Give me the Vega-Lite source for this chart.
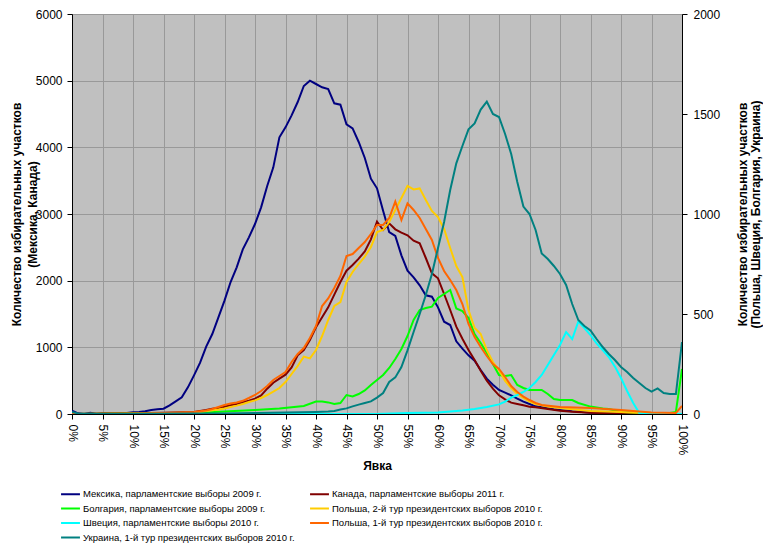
{
  "$schema": "https://vega.github.io/schema/vega-lite/v6.json",
  "width": 610,
  "height": 400,
  "autosize": {"type": "none"},
  "padding": {"left": 72, "top": 14, "right": 81, "bottom": 131},
  "background": "white",
  "config": {
    "font": "Liberation Sans",
    "view": {"fill": "#C0C0C0", "stroke": null},
    "axis": {
      "labelColor": "#000000",
      "titleColor": "#000000",
      "domainColor": "#000000",
      "tickColor": "#000000",
      "labelFontSize": 12,
      "labelFont": "Liberation Sans",
      "titleFont": "Liberation Sans",
      "gridColor": "#999999",
      "gridOpacity": 1,
      "domainWidth": 1,
      "tickWidth": 1
    }
  },
  "datasets": {
    "series": [
      {"k": "M", "name": "Мексика, парламентские выборы 2009 г."},
      {"k": "C", "name": "Канада, парламентские выборы 2011 г."},
      {"k": "B", "name": "Болгария, парламентские выборы 2009 г."},
      {"k": "Y", "name": "Польша, 2-й тур президентских выборов 2010 г."},
      {"k": "S", "name": "Швеция, парламентские выборы 2010 г."},
      {"k": "P", "name": "Польша, 1-й тур президентских выборов 2010 г."},
      {"k": "U", "name": "Украина, 1-й тур президентских выборов 2010 г."}
    ],
    "counts": [
      {"k":"M","x":0,"v":50},{"k":"M","x":1,"v":10},{"k":"M","x":2,"v":0},{"k":"M","x":3,"v":20},{"k":"M","x":4,"v":5},{"k":"M","x":5,"v":10},{"k":"M","x":6,"v":10},{"k":"M","x":7,"v":10},{"k":"M","x":8,"v":15},{"k":"M","x":9,"v":15},{"k":"M","x":10,"v":25},{"k":"M","x":11,"v":30},{"k":"M","x":12,"v":40},{"k":"M","x":13,"v":60},{"k":"M","x":14,"v":70},{"k":"M","x":15,"v":80},{"k":"M","x":16,"v":130},{"k":"M","x":17,"v":190},{"k":"M","x":18,"v":250},{"k":"M","x":19,"v":400},{"k":"M","x":20,"v":580},{"k":"M","x":21,"v":770},{"k":"M","x":22,"v":1010},{"k":"M","x":23,"v":1200},{"k":"M","x":24,"v":1450},{"k":"M","x":25,"v":1700},{"k":"M","x":26,"v":1980},{"k":"M","x":27,"v":2200},{"k":"M","x":28,"v":2470},{"k":"M","x":29,"v":2650},{"k":"M","x":30,"v":2850},{"k":"M","x":31,"v":3100},{"k":"M","x":32,"v":3420},{"k":"M","x":33,"v":3700},{"k":"M","x":34,"v":4150},{"k":"M","x":35,"v":4300},{"k":"M","x":36,"v":4480},{"k":"M","x":37,"v":4680},{"k":"M","x":38,"v":4920},{"k":"M","x":39,"v":5000},{"k":"M","x":40,"v":4950},{"k":"M","x":41,"v":4900},{"k":"M","x":42,"v":4875},{"k":"M","x":43,"v":4660},{"k":"M","x":44,"v":4640},{"k":"M","x":45,"v":4345},{"k":"M","x":46,"v":4285},{"k":"M","x":47,"v":4080},{"k":"M","x":48,"v":3840},{"k":"M","x":49,"v":3530},{"k":"M","x":50,"v":3385},{"k":"M","x":51,"v":3050},{"k":"M","x":52,"v":2730},{"k":"M","x":53,"v":2670},{"k":"M","x":54,"v":2380},{"k":"M","x":55,"v":2150},{"k":"M","x":56,"v":2050},{"k":"M","x":57,"v":1930},{"k":"M","x":58,"v":1780},{"k":"M","x":59,"v":1760},{"k":"M","x":60,"v":1600},{"k":"M","x":61,"v":1385},{"k":"M","x":62,"v":1335},{"k":"M","x":63,"v":1090},{"k":"M","x":64,"v":980},{"k":"M","x":65,"v":880},{"k":"M","x":66,"v":800},{"k":"M","x":67,"v":660},{"k":"M","x":68,"v":530},{"k":"M","x":69,"v":440},{"k":"M","x":70,"v":360},{"k":"M","x":71,"v":320},{"k":"M","x":72,"v":280},{"k":"M","x":73,"v":230},{"k":"M","x":74,"v":185},{"k":"M","x":75,"v":150},{"k":"M","x":76,"v":115},{"k":"M","x":77,"v":100},{"k":"M","x":78,"v":85},{"k":"M","x":79,"v":70},{"k":"M","x":80,"v":60},{"k":"M","x":82,"v":40},{"k":"M","x":85,"v":20},{"k":"M","x":88,"v":10},{"k":"M","x":90,"v":0},{"k":"M","x":100,"v":0},
      {"k":"C","x":0,"v":0},{"k":"C","x":10,"v":10},{"k":"C","x":15,"v":20},{"k":"C","x":20,"v":30},{"k":"C","x":22,"v":60},{"k":"C","x":23,"v":80},{"k":"C","x":24,"v":90},{"k":"C","x":25,"v":110},{"k":"C","x":26,"v":130},{"k":"C","x":27,"v":150},{"k":"C","x":28,"v":175},{"k":"C","x":29,"v":200},{"k":"C","x":30,"v":230},{"k":"C","x":31,"v":280},{"k":"C","x":32,"v":380},{"k":"C","x":33,"v":470},{"k":"C","x":34,"v":530},{"k":"C","x":35,"v":590},{"k":"C","x":36,"v":700},{"k":"C","x":37,"v":880},{"k":"C","x":38,"v":960},{"k":"C","x":39,"v":1110},{"k":"C","x":40,"v":1300},{"k":"C","x":41,"v":1450},{"k":"C","x":42,"v":1600},{"k":"C","x":43,"v":1790},{"k":"C","x":44,"v":1980},{"k":"C","x":45,"v":2150},{"k":"C","x":46,"v":2235},{"k":"C","x":47,"v":2330},{"k":"C","x":48,"v":2440},{"k":"C","x":49,"v":2620},{"k":"C","x":50,"v":2885},{"k":"C","x":51,"v":2760},{"k":"C","x":52,"v":2860},{"k":"C","x":53,"v":2770},{"k":"C","x":54,"v":2720},{"k":"C","x":55,"v":2680},{"k":"C","x":56,"v":2600},{"k":"C","x":57,"v":2560},{"k":"C","x":58,"v":2340},{"k":"C","x":59,"v":2110},{"k":"C","x":60,"v":2035},{"k":"C","x":61,"v":1800},{"k":"C","x":62,"v":1560},{"k":"C","x":63,"v":1310},{"k":"C","x":64,"v":1130},{"k":"C","x":65,"v":960},{"k":"C","x":66,"v":810},{"k":"C","x":67,"v":650},{"k":"C","x":68,"v":500},{"k":"C","x":69,"v":380},{"k":"C","x":70,"v":280},{"k":"C","x":71,"v":220},{"k":"C","x":72,"v":170},{"k":"C","x":73,"v":150},{"k":"C","x":74,"v":130},{"k":"C","x":75,"v":110},{"k":"C","x":76,"v":100},{"k":"C","x":78,"v":75},{"k":"C","x":80,"v":50},{"k":"C","x":82,"v":35},{"k":"C","x":85,"v":20},{"k":"C","x":88,"v":10},{"k":"C","x":90,"v":5},{"k":"C","x":95,"v":0},{"k":"C","x":100,"v":0},
      {"k":"B","x":0,"v":0},{"k":"B","x":20,"v":5},{"k":"B","x":25,"v":12},{"k":"B","x":30,"v":20},{"k":"B","x":34,"v":28},{"k":"B","x":38,"v":40},{"k":"B","x":40,"v":62},{"k":"B","x":41,"v":62},{"k":"B","x":42,"v":58},{"k":"B","x":43,"v":50},{"k":"B","x":44,"v":55},{"k":"B","x":45,"v":95},{"k":"B","x":46,"v":88},{"k":"B","x":47,"v":100},{"k":"B","x":48,"v":118},{"k":"B","x":49,"v":145},{"k":"B","x":50,"v":170},{"k":"B","x":51,"v":195},{"k":"B","x":52,"v":230},{"k":"B","x":53,"v":275},{"k":"B","x":54,"v":325},{"k":"B","x":55,"v":390},{"k":"B","x":56,"v":470},{"k":"B","x":57,"v":520},{"k":"B","x":58,"v":530},{"k":"B","x":59,"v":537},{"k":"B","x":60,"v":580},{"k":"B","x":61,"v":600},{"k":"B","x":62,"v":620},{"k":"B","x":63,"v":528},{"k":"B","x":64,"v":515},{"k":"B","x":65,"v":480},{"k":"B","x":66,"v":400},{"k":"B","x":67,"v":355},{"k":"B","x":68,"v":305},{"k":"B","x":69,"v":250},{"k":"B","x":70,"v":195},{"k":"B","x":71,"v":190},{"k":"B","x":72,"v":195},{"k":"B","x":73,"v":145},{"k":"B","x":74,"v":130},{"k":"B","x":75,"v":120},{"k":"B","x":77,"v":120},{"k":"B","x":78,"v":100},{"k":"B","x":79,"v":75},{"k":"B","x":80,"v":70},{"k":"B","x":82,"v":70},{"k":"B","x":83,"v":55},{"k":"B","x":85,"v":37},{"k":"B","x":87,"v":28},{"k":"B","x":88,"v":25},{"k":"B","x":90,"v":10},{"k":"B","x":95,"v":5},{"k":"B","x":98,"v":5},{"k":"B","x":99,"v":10},{"k":"B","x":100,"v":225},
      {"k":"Y","x":0,"v":0},{"k":"Y","x":15,"v":3},{"k":"Y","x":20,"v":5},{"k":"Y","x":22,"v":15},{"k":"Y","x":24,"v":22},{"k":"Y","x":25,"v":28},{"k":"Y","x":26,"v":35},{"k":"Y","x":27,"v":42},{"k":"Y","x":28,"v":50},{"k":"Y","x":29,"v":60},{"k":"Y","x":30,"v":68},{"k":"Y","x":31,"v":80},{"k":"Y","x":32,"v":95},{"k":"Y","x":33,"v":112},{"k":"Y","x":34,"v":130},{"k":"Y","x":35,"v":160},{"k":"Y","x":36,"v":200},{"k":"Y","x":37,"v":240},{"k":"Y","x":38,"v":287},{"k":"Y","x":39,"v":278},{"k":"Y","x":40,"v":320},{"k":"Y","x":41,"v":390},{"k":"Y","x":42,"v":470},{"k":"Y","x":43,"v":540},{"k":"Y","x":44,"v":560},{"k":"Y","x":45,"v":660},{"k":"Y","x":46,"v":710},{"k":"Y","x":47,"v":750},{"k":"Y","x":48,"v":787},{"k":"Y","x":49,"v":835},{"k":"Y","x":50,"v":910},{"k":"Y","x":51,"v":920},{"k":"Y","x":52,"v":960},{"k":"Y","x":53,"v":1020},{"k":"Y","x":54,"v":1080},{"k":"Y","x":55,"v":1140},{"k":"Y","x":56,"v":1123},{"k":"Y","x":57,"v":1128},{"k":"Y","x":58,"v":1070},{"k":"Y","x":59,"v":1015},{"k":"Y","x":60,"v":985},{"k":"Y","x":61,"v":925},{"k":"Y","x":62,"v":830},{"k":"Y","x":63,"v":740},{"k":"Y","x":64,"v":685},{"k":"Y","x":65,"v":520},{"k":"Y","x":66,"v":430},{"k":"Y","x":67,"v":400},{"k":"Y","x":68,"v":320},{"k":"Y","x":69,"v":260},{"k":"Y","x":70,"v":220},{"k":"Y","x":71,"v":165},{"k":"Y","x":72,"v":130},{"k":"Y","x":73,"v":100},{"k":"Y","x":74,"v":80},{"k":"Y","x":75,"v":62},{"k":"Y","x":76,"v":50},{"k":"Y","x":78,"v":38},{"k":"Y","x":80,"v":30},{"k":"Y","x":85,"v":15},{"k":"Y","x":90,"v":10},{"k":"Y","x":95,"v":3},{"k":"Y","x":100,"v":0},
      {"k":"S","x":0,"v":0},{"k":"S","x":50,"v":0},{"k":"S","x":55,"v":5},{"k":"S","x":60,"v":8},{"k":"S","x":64,"v":18},{"k":"S","x":66,"v":25},{"k":"S","x":68,"v":35},{"k":"S","x":70,"v":48},{"k":"S","x":71,"v":62},{"k":"S","x":72,"v":82},{"k":"S","x":73,"v":95},{"k":"S","x":74,"v":110},{"k":"S","x":75,"v":130},{"k":"S","x":76,"v":160},{"k":"S","x":77,"v":195},{"k":"S","x":78,"v":245},{"k":"S","x":79,"v":295},{"k":"S","x":80,"v":345},{"k":"S","x":81,"v":410},{"k":"S","x":82,"v":375},{"k":"S","x":83,"v":462},{"k":"S","x":84,"v":430},{"k":"S","x":85,"v":395},{"k":"S","x":86,"v":353},{"k":"S","x":87,"v":320},{"k":"S","x":88,"v":285},{"k":"S","x":89,"v":237},{"k":"S","x":90,"v":180},{"k":"S","x":91,"v":115},{"k":"S","x":92,"v":55},{"k":"S","x":93,"v":5},{"k":"S","x":94,"v":0},{"k":"S","x":100,"v":0},
      {"k":"P","x":0,"v":0},{"k":"P","x":10,"v":3},{"k":"P","x":15,"v":5},{"k":"P","x":20,"v":10},{"k":"P","x":22,"v":18},{"k":"P","x":23,"v":25},{"k":"P","x":24,"v":35},{"k":"P","x":25,"v":45},{"k":"P","x":26,"v":52},{"k":"P","x":27,"v":58},{"k":"P","x":28,"v":66},{"k":"P","x":29,"v":80},{"k":"P","x":30,"v":95},{"k":"P","x":31,"v":115},{"k":"P","x":32,"v":140},{"k":"P","x":33,"v":170},{"k":"P","x":34,"v":190},{"k":"P","x":35,"v":210},{"k":"P","x":36,"v":260},{"k":"P","x":37,"v":300},{"k":"P","x":38,"v":330},{"k":"P","x":39,"v":380},{"k":"P","x":40,"v":440},{"k":"P","x":41,"v":540},{"k":"P","x":42,"v":578},{"k":"P","x":43,"v":630},{"k":"P","x":44,"v":690},{"k":"P","x":45,"v":790},{"k":"P","x":46,"v":800},{"k":"P","x":47,"v":830},{"k":"P","x":48,"v":860},{"k":"P","x":49,"v":900},{"k":"P","x":50,"v":945},{"k":"P","x":51,"v":945},{"k":"P","x":52,"v":980},{"k":"P","x":53,"v":1062},{"k":"P","x":54,"v":970},{"k":"P","x":55,"v":1053},{"k":"P","x":56,"v":1020},{"k":"P","x":57,"v":980},{"k":"P","x":58,"v":925},{"k":"P","x":59,"v":870},{"k":"P","x":60,"v":780},{"k":"P","x":61,"v":715},{"k":"P","x":62,"v":670},{"k":"P","x":63,"v":620},{"k":"P","x":64,"v":550},{"k":"P","x":65,"v":450},{"k":"P","x":66,"v":385},{"k":"P","x":67,"v":335},{"k":"P","x":68,"v":290},{"k":"P","x":69,"v":250},{"k":"P","x":70,"v":225},{"k":"P","x":71,"v":185},{"k":"P","x":72,"v":140},{"k":"P","x":73,"v":110},{"k":"P","x":74,"v":87},{"k":"P","x":75,"v":70},{"k":"P","x":76,"v":55},{"k":"P","x":77,"v":45},{"k":"P","x":80,"v":35},{"k":"P","x":85,"v":30},{"k":"P","x":90,"v":20},{"k":"P","x":95,"v":8},{"k":"P","x":99,"v":5},{"k":"P","x":100,"v":40},
      {"k":"U","x":0,"v":10},{"k":"U","x":1,"v":3},{"k":"U","x":5,"v":0},{"k":"U","x":20,"v":2},{"k":"U","x":25,"v":3},{"k":"U","x":30,"v":5},{"k":"U","x":35,"v":8},{"k":"U","x":40,"v":10},{"k":"U","x":42,"v":12},{"k":"U","x":43,"v":15},{"k":"U","x":44,"v":22},{"k":"U","x":45,"v":28},{"k":"U","x":46,"v":38},{"k":"U","x":47,"v":47},{"k":"U","x":48,"v":55},{"k":"U","x":49,"v":63},{"k":"U","x":50,"v":82},{"k":"U","x":51,"v":105},{"k":"U","x":52,"v":160},{"k":"U","x":53,"v":183},{"k":"U","x":54,"v":235},{"k":"U","x":55,"v":318},{"k":"U","x":56,"v":410},{"k":"U","x":57,"v":500},{"k":"U","x":58,"v":595},{"k":"U","x":59,"v":700},{"k":"U","x":60,"v":830},{"k":"U","x":61,"v":960},{"k":"U","x":62,"v":1120},{"k":"U","x":63,"v":1253},{"k":"U","x":64,"v":1340},{"k":"U","x":65,"v":1423},{"k":"U","x":66,"v":1453},{"k":"U","x":67,"v":1522},{"k":"U","x":68,"v":1562},{"k":"U","x":69,"v":1500},{"k":"U","x":70,"v":1485},{"k":"U","x":71,"v":1400},{"k":"U","x":72,"v":1300},{"k":"U","x":73,"v":1160},{"k":"U","x":74,"v":1037},{"k":"U","x":75,"v":1000},{"k":"U","x":76,"v":920},{"k":"U","x":77,"v":803},{"k":"U","x":78,"v":775},{"k":"U","x":79,"v":740},{"k":"U","x":80,"v":700},{"k":"U","x":81,"v":645},{"k":"U","x":82,"v":550},{"k":"U","x":83,"v":470},{"k":"U","x":84,"v":440},{"k":"U","x":85,"v":418},{"k":"U","x":86,"v":375},{"k":"U","x":87,"v":335},{"k":"U","x":88,"v":300},{"k":"U","x":89,"v":270},{"k":"U","x":90,"v":235},{"k":"U","x":91,"v":210},{"k":"U","x":92,"v":180},{"k":"U","x":93,"v":155},{"k":"U","x":94,"v":130},{"k":"U","x":95,"v":112},{"k":"U","x":96,"v":128},{"k":"U","x":97,"v":105},{"k":"U","x":98,"v":100},{"k":"U","x":99,"v":100},{"k":"U","x":100,"v":360}
    ]
  },
  "data": {"name": "counts"},
  "transform": [
    {"lookup": "k", "from": {"data": {"name": "series"}, "key": "k", "fields": ["name"]}}
  ],
  "layer": [
    {
      "transform": [{"filter": {"field": "k", "oneOf": ["M", "C"]}}],
      "mark": {"type": "line", "strokeWidth": 2, "clip": true},
      "encoding": {
        "x": {
          "field": "x", "type": "quantitative",
          "scale": {"domain": [0, 100], "nice": false},
          "axis": {
            "values": [0,5,10,15,20,25,30,35,40,45,50,55,60,65,70,75,80,85,90,95,100],
            "labelExpr": "datum.value + '%'",
            "labelAngle": 90,
            "labelAlign": "left",
            "labelBaseline": "middle",
            "labelPadding": 5,
            "tickSize": 5,
            "grid": true,
            "title": "Явка",
            "titleFontSize": 12,
            "titleFontWeight": "bold",
            "titlePadding": 6
          }
        },
        "y": {
          "field": "v", "type": "quantitative",
          "scale": {"domain": [0, 6000], "nice": false},
          "axis": {
            "orient": "left",
            "values": [0, 1000, 2000, 3000, 4000, 5000, 6000],
            "format": "d",
            "grid": true,
            "tickSize": 5,
            "labelPadding": 5,
            "title": ["Количество избирательных участков", "(Мексика, Канада)"],
            "titleFontSize": 12,
            "titleFontWeight": "bold",
            "titleLineHeight": 16,
            "titlePadding": -4
          }
        },
        "color": {
          "field": "name", "type": "nominal",
          "scale": {
            "domain": ["Мексика, парламентские выборы 2009 г.", "Болгария, парламентские выборы 2009 г.", "Швеция, парламентские выборы 2010 г.", "Украина, 1-й тур президентских выборов 2010 г.", "Канада, парламентские выборы 2011 г.", "Польша, 2-й тур президентских выборов 2010 г.", "Польша, 1-й тур президентских выборов 2010 г."],
            "range": ["#000080", "#00FF00", "#00FFFF", "#008080", "#800000", "#FFCC00", "#FF6600"]
          },
          "legend": {
            "orient": "none", "legendX": -9.5, "legendY": 472,
            "columns": 2, "title": null,
            "symbolType": "M-1.35,0L1.35,0", "symbolSize": 196, "symbolStrokeWidth": 2,
            "labelFontSize": 9.5, "labelFont": "Liberation Sans", "labelColor": "#000000",
            "labelOffset": 4.5, "labelLimit": 400, "columnPadding": 10, "rowPadding": 1.5, "padding": 0
          }
        }
      }
    },
    {
      "transform": [{"filter": {"field": "k", "oneOf": ["B", "Y", "S", "P", "U"]}}],
      "mark": {"type": "line", "strokeWidth": 2, "clip": true},
      "encoding": {
        "x": {
          "field": "x", "type": "quantitative",
          "scale": {"domain": [0, 100], "nice": false},
          "axis": {
            "values": [0,5,10,15,20,25,30,35,40,45,50,55,60,65,70,75,80,85,90,95,100],
            "labelExpr": "datum.value + '%'",
            "labelAngle": 90,
            "labelAlign": "left",
            "labelBaseline": "middle",
            "labelPadding": 5,
            "tickSize": 5,
            "grid": true,
            "title": "Явка",
            "titleFontSize": 12,
            "titleFontWeight": "bold",
            "titlePadding": 6
          }
        },
        "y": {
          "field": "v", "type": "quantitative",
          "scale": {"domain": [0, 2000], "nice": false},
          "axis": {
            "orient": "right",
            "values": [0, 500, 1000, 1500, 2000],
            "format": "d",
            "grid": false,
            "tickSize": 5,
            "labelPadding": 6,
            "title": ["Количество избирательных участков", "(Польша, Швеция, Болгария, Украина)"],
            "titleFontSize": 12,
            "titleFontWeight": "bold",
            "titleAngle": -90,
            "titleBaseline": "top",
            "titleLineHeight": 13,
            "titlePadding": 5
          }
        },
        "color": {
          "field": "name", "type": "nominal",
          "scale": {
            "domain": ["Мексика, парламентские выборы 2009 г.", "Болгария, парламентские выборы 2009 г.", "Швеция, парламентские выборы 2010 г.", "Украина, 1-й тур президентских выборов 2010 г.", "Канада, парламентские выборы 2011 г.", "Польша, 2-й тур президентских выборов 2010 г.", "Польша, 1-й тур президентских выборов 2010 г."],
            "range": ["#000080", "#00FF00", "#00FFFF", "#008080", "#800000", "#FFCC00", "#FF6600"]
          },
          "legend": {
            "orient": "none", "legendX": -9.5, "legendY": 472,
            "columns": 2, "title": null,
            "symbolType": "M-1.35,0L1.35,0", "symbolSize": 196, "symbolStrokeWidth": 2,
            "labelFontSize": 9.5, "labelFont": "Liberation Sans", "labelColor": "#000000",
            "labelOffset": 4.5, "labelLimit": 400, "columnPadding": 10, "rowPadding": 1.5, "padding": 0
          }
        }
      }
    }
  ],
  "resolve": {"scale": {"y": "independent"}, "axis": {"y": "independent"}}
}
